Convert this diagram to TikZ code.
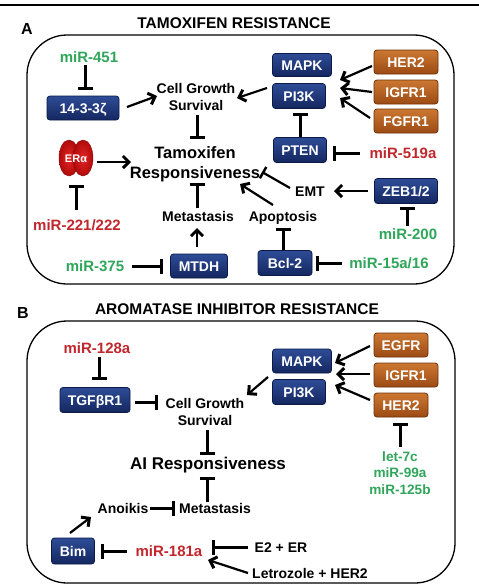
\documentclass[tikz,border=0pt]{standalone}
\usepackage{fontspec}
\setmainfont{Liberation Sans}
\usetikzlibrary{arrows.meta,calc}
\definecolor{navyT}{HTML}{2E4C96}
\definecolor{navyB}{HTML}{142760}
\definecolor{navyD}{HTML}{0B1A48}
\definecolor{orT}{HTML}{CC7832}
\definecolor{orB}{HTML}{9C4A14}
\definecolor{orD}{HTML}{6E3208}
\definecolor{mgreen}{HTML}{2FA65A}
\definecolor{mred}{HTML}{C1272D}
\definecolor{erIn}{HTML}{E42626}
\definecolor{erOut}{HTML}{B00A0A}
\newcommand\fsz[2]{\fontsize{#1}{#2}\selectfont}
\begin{document}
\begin{tikzpicture}[x=1pt,y=-1pt,
  lbl/.style={inner sep=0pt, text height=#1, text depth=0pt},
  ttl/.style={font=\bfseries\fsz{15.5}{15.5}, lbl=11.1pt},
  mirG/.style={text=mgreen, font=\bfseries\fsz{15}{15}, lbl=10.8pt},
  mirR/.style={text=mred, font=\bfseries\fsz{15}{15}, lbl=10.8pt},
  ctext/.style={font=\bfseries\fsz{14}{17}, lbl=10pt},
  mtext/.style={font=\bfseries\fsz{14}{17}, align=center, inner sep=0pt},
  bigtext/.style={font=\bfseries\fsz{16.5}{20}, align=center, inner sep=0pt},
  nbox/.style={rounded corners=3pt, draw=navyD, line width=0.8pt, top color=navyT, bottom color=navyB,
    text=white, font=\bfseries\fsz{14}{14}, inner sep=0pt, text height=10pt, text depth=0pt,
    minimum height=24pt, minimum width=#1},
  obox/.style={rounded corners=3pt, draw=orD, line width=0.8pt, top color=orT, bottom color=orB,
    text=white, font=\bfseries\fsz{14}{14}, inner sep=0pt, text height=10pt, text depth=0pt,
    minimum height=24pt, minimum width=#1},
  frame/.style={line width=1.3pt, rounded corners=40pt},
  act/.style={line width=2.2pt, -{Straight Barb[length=6pt,width=12pt,line width=3pt]}},
  inh/.style={line width=3pt, -{Bar[width=15pt,line width=3pt]}},
  lobe/.style={draw=erOut!80!black, line width=0.4pt, inner color=erIn, outer color=erOut}
]
\useasboundingbox (0,0) rectangle (479,587);
\fill[white] (0,0) rectangle (479,587);
\draw[line width=2pt] (0,4.5) -- (479,4.5);

% ---------------- Panel A ----------------
\draw[frame] (27,35) rectangle (454,284);
\node[font=\bfseries\fsz{16}{16}, lbl=11.5pt] (labA) at (27,29) {A};
\node[ttl] (titleA) at (234,23) {TAMOXIFEN RESISTANCE};

\node[mirG] (m451) at (89,57) {miR-451};
\node[nbox=72pt] (z1433) at (83,108) {14-3-3ζ};
\node[mtext] (cgA) at (196,97) {Cell Growth\\Survival};
\node[nbox=59pt, minimum height=23pt] (mapkA) at (302,65) {MAPK};
\node[nbox=53pt, minimum height=25pt] (pi3kA) at (299,96) {PI3K};
\node[obox=64pt] (her2A) at (406,62) {HER2};
\node[obox=64pt] (igfr1A) at (406,92) {IGFR1};
\node[obox=64pt] (fgfr1A) at (406,121) {FGFR1};
\node[nbox=53pt, minimum height=25pt] (ptenA) at (300,150) {PTEN};
\node[mirR] (m519) at (403,153) {miR-519a};
\node[bigtext] (tamR) at (195,164) {Tamoxifen\\Responsiveness};
\shade[lobe] (69,158) ellipse [x radius=10, y radius=18];
\shade[lobe] (83,158) ellipse [x radius=10, y radius=18];
\node[text=white, font=\bfseries\fsz{11}{11}, lbl=8pt] (era) at (76,158) {ERα};
\node[mirR] (m221) at (77,225) {miR-221/222};
\node[ctext] (metA) at (198,216) {Metastasis};
\node[ctext] (apoA) at (283,216) {Apoptosis};
\node[ctext] (emt) at (310,191) {EMT};
\node[nbox=63pt, minimum height=25pt] (zeb) at (406,191) {ZEB1/2};
\node[mirG] (m200) at (408,234) {miR-200};
\node[nbox=57pt] (mtdh) at (199,266) {MTDH};
\node[mirG] (m375) at (95,266) {miR-375};
\node[nbox=54pt, minimum height=25pt] (bcl2) at (285,263) {Bcl-2};
\node[mirG] (m15) at (389,263) {miR-15a/16};

\draw[inh] ($(m451)+(-4,8)$) -- ($(z1433)+(2,-18)$);
\draw[act] ($(z1433)+(44,-1)$) -- ($(cgA)+(-39,-1)$);
\draw[act] ($(pi3kA)+(-32,-8)$) -- ($(cgA)+(41,1)$);
\draw[act] ($(her2A)+(-34,4)$) -- ($(mapkA)+(38,15)$);
\draw[act] ($(igfr1A)+(-34,0)$) -- ($(pi3kA)+(41,-8)$);
\draw[act] ($(fgfr1A)+(-36,-3)$) -- ($(pi3kA)+(41,2)$);
\draw[inh] ($(ptenA)+(0,-13)$) -- ($(pi3kA)+(1,17)$);
\draw[inh] ($(m519)+(-43,0)$) -- ($(ptenA)+(33,3)$);
\draw[inh] ($(cgA)+(1,18)$) -- ($(tamR)+(2,-25)$);
\draw[act] ($(era)+(21,4)$) -- ($(tamR)+(-64,-2)$);
\draw[inh] ($(m221)+(-1,-15)$) -- ($(era)+(0,27)$);
\draw[inh] ($(metA)+(-1,-8)$) -- ($(tamR)+(2,19)$);
\draw[act] ($(apoA)+(-10,-11)$) -- ($(tamR)+(45,20)$);
\draw[line width=2.2pt, -{Bar[width=13pt,line width=2.5pt]}] ($(emt)+(-20,-3)$) -- ($(tamR)+(67,8)$);
\draw[act] ($(zeb)+(-38,0)$) -- ($(emt)+(24,0)$);
\draw[inh] ($(m200)+(-1,-8)$) -- ($(zeb)+(1,16)$);
\draw[inh] ($(m375)+(37,0)$) -- ($(mtdh)+(-36,0)$);
\draw[act] ($(mtdh)+(-2,-19)$) -- ($(metA)+(-1,12)$);
\draw[inh] ($(bcl2)+(-2,-13)$) -- ($(apoA)+(0,12)$);
\draw[inh] ($(m15)+(-47,0)$) -- ($(bcl2)+(31,0)$);

% ---------------- Panel B ----------------
\draw[frame] (27,321) rectangle (455,583);
\node[font=\bfseries\fsz{16}{16}, lbl=11.5pt] (labB) at (23,313) {B};
\node[ttl] (titleB) at (237,309) {AROMATASE INHIBITOR RESISTANCE};

\node[mirR] (m128) at (97,348) {miR-128a};
\node[nbox=70pt, minimum height=25pt] (tgf) at (95,400) {TGFβR1};
\node[mtext] (cgB) at (205,412) {Cell Growth\\Survival};
\node[nbox=59pt] (mapkB) at (302,361) {MAPK};
\node[nbox=53pt, minimum height=25pt] (pi3kB) at (299,392) {PI3K};
\node[obox=54pt] (egfr) at (401,345) {EGFR};
\node[obox=64pt] (igfr1B) at (406,375) {IGFR1};
\node[obox=54pt] (her2B) at (401,405) {HER2};
\node[text=mgreen, font=\bfseries\fsz{13.6}{16.5}, align=center, inner sep=0pt] (let7) at (400,473) {let-7c\\miR-99a\\miR-125b};
\node[bigtext, font=\bfseries\fsz{17}{17}, lbl=12.2pt] (aiR) at (208,463) {AI Responsiveness};
\node[ctext] (metB) at (215,508) {Metastasis};
\node[ctext] (anoikis) at (123,508) {Anoikis};
\node[nbox=43pt, minimum height=26pt] (bim) at (73,551) {Bim};
\node[mirR] (m181) at (169,551) {miR-181a};
\node[ctext] (e2er) at (281,547) {E2 + ER};
\node[ctext] (letro) at (310,573) {Letrozole + HER2};

\draw[inh] ($(m128)+(2,9)$) -- ($(tgf)+(4,-20)$);
\draw[inh] ($(tgf)+(40,2)$) -- ($(cgB)+(-47,-10)$);
\draw[act] ($(pi3kB)+(-31,-15)$) -- ($(cgB)+(42,-17)$);
\draw[act] ($(egfr)+(-31,1)$) -- ($(mapkB)+(33,2)$);
\draw[act] ($(igfr1B)+(-36,-1)$) -- ($(mapkB)+(34,13)$);
\draw[act] ($(her2B)+(-31,-5)$) -- ($(pi3kB)+(36,-7)$);
\draw[inh] ($(let7)+(0,-26)$) -- ($(her2B)+(-1,18)$);
\draw[inh] ($(cgB)+(2,18)$) -- ($(aiR)+(-1,-8)$);
\draw[inh] ($(metB)+(-8,-6)$) -- ($(aiR)+(-1,14)$);
\draw[inh] ($(anoikis)+(27,0)$) -- ($(metB)+(-40,0)$);
\draw[act] ($(bim)+(-3,-18)$) -- ($(anoikis)+(-32,9)$);
\draw[inh] ($(m181)+(-42,0)$) -- ($(bim)+(28,0)$);
\draw[inh] ($(e2er)+(-33,0)$) -- ($(m181)+(43,-4)$);
\draw[act] ($(letro)+(-62,0)$) -- ($(m181)+(39,9)$);
\end{tikzpicture}
\end{document}
